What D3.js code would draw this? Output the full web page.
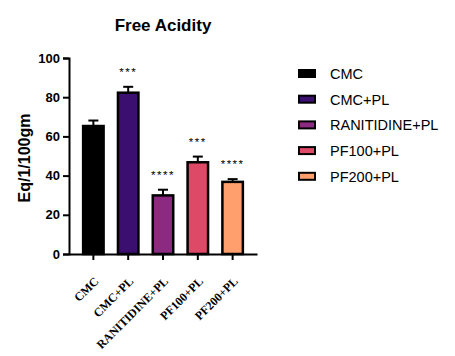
<!DOCTYPE html>
<html><head><meta charset="utf-8">
<script src="https://cdn.jsdelivr.net/npm/d3@7"></script>
<style>body{margin:0;background:#fff;} svg{display:block;}</style>
</head><body>
<script>
const categories = ["CMC", "CMC+PL", "RANITIDINE+PL", "PF100+PL", "PF200+PL"];
const means = [65.3, 82.3, 29.9, 46.8, 36.8];
const errors = [2.8, 3.0, 2.9, 2.9, 1.4];
const stars = ["", "***", "****", "***", "****"];
const colors = ["#000000", "#3b0f70", "#8c2981", "#de4968", "#fe9f6d"];
const yTicks = [0, 20, 40, 60, 80, 100];
const title = "Free Acidity";
const yLabel = "Eq/1/100gm";

const W = 455, H = 356;
const svg = d3.select("body").append("svg").attr("width", W).attr("height", H);

const x0 = 69, x1 = 257, yTop = 58, yBot = 254;
const x = d3.scaleBand().domain(categories).range([x0, x1]).paddingInner(0.34).paddingOuter(0.37);
const y = d3.scaleLinear().domain([0, 100]).range([yBot, yTop]);

// title
svg.append("text").attr("x", 163).attr("y", 31).attr("text-anchor", "middle")
  .attr("font-family", "Liberation Sans, Arial, sans-serif").attr("font-weight", "bold")
  .attr("font-size", 17).text(title);

// y label
svg.append("text").attr("transform", `translate(30,${(yTop + yBot) / 2 + 2}) rotate(-90)`)
  .attr("text-anchor", "middle")
  .attr("font-family", "Liberation Sans, Arial, sans-serif").attr("font-weight", "bold")
  .attr("font-size", 16).text(yLabel);

// bars
const g = svg.append("g");
g.selectAll("rect.bar").data(categories).join("rect").attr("class", "bar")
  .attr("x", d => x(d) + 1.25)
  .attr("width", x.bandwidth() - 2.5)
  .attr("y", (d, i) => y(means[i]))
  .attr("height", (d, i) => y(0) - y(means[i]))
  .attr("fill", (d, i) => colors[i])
  .attr("stroke", "#000").attr("stroke-width", 2.5);

// error bars
const cx = d => x(d) + x.bandwidth() / 2;
g.selectAll("line.err").data(categories).join("line").attr("class", "err")
  .attr("x1", cx).attr("x2", cx)
  .attr("y1", (d, i) => y(means[i])).attr("y2", (d, i) => y(means[i] + errors[i]))
  .attr("stroke", "#000").attr("stroke-width", 2);
g.selectAll("line.cap").data(categories).join("line").attr("class", "cap")
  .attr("x1", d => cx(d) - 5).attr("x2", d => cx(d) + 5)
  .attr("y1", (d, i) => y(means[i] + errors[i])).attr("y2", (d, i) => y(means[i] + errors[i]))
  .attr("stroke", "#000").attr("stroke-width", 2);

// stars
g.selectAll("text.star").data(categories).join("text").attr("class", "star")
  .attr("x", cx).attr("y", (d, i) => y(means[i] + errors[i]) - 11)
  .attr("text-anchor", "middle")
  .attr("font-family", "Liberation Sans, Arial, sans-serif").attr("font-size", 11.5)
  .attr("letter-spacing", 1.5)
  .text((d, i) => stars[i]);

// y axis
const yAxis = svg.append("g").attr("transform", `translate(${x0},0)`)
  .call(d3.axisLeft(y).tickValues(yTicks).tickSize(6).tickPadding(3).tickFormat(d3.format("d")));
yAxis.select(".domain").attr("stroke-width", 2);
yAxis.selectAll(".tick line").attr("stroke-width", 2);
yAxis.selectAll("text").attr("font-family", "Liberation Sans, Arial, sans-serif")
  .attr("font-weight", "bold").attr("font-size", 13).attr("fill", "#000");

// x axis
const xAxis = svg.append("g").attr("transform", `translate(0,${yBot})`)
  .call(d3.axisBottom(x).tickSize(6).tickSizeOuter(0).tickPadding(0));
xAxis.select(".domain").attr("stroke-width", 2);
xAxis.selectAll(".tick line").attr("stroke-width", 2);
xAxis.selectAll("text")
  .attr("font-family", "Liberation Serif, Times New Roman, serif").attr("font-weight", "bold")
  .attr("font-size", 12).attr("fill", "#000")
  .attr("text-anchor", "end").attr("dy", null).attr("x", 0).attr("y", 0)
  .attr("transform", "translate(6,28) rotate(-45)");

// legend
const leg = svg.append("g");
const rowY = i => 73.5 + i * 25.7;
leg.selectAll("rect").data(categories).join("rect")
  .attr("x", 299).attr("y", (d, i) => rowY(i) - 3.5).attr("width", 16).attr("height", 7)
  .attr("fill", (d, i) => colors[i]).attr("stroke", "#000").attr("stroke-width", 2);
leg.selectAll("text").data(categories).join("text")
  .attr("x", 330).attr("y", (d, i) => rowY(i) + 5.5)
  .attr("font-family", "Liberation Sans, Arial, sans-serif").attr("font-size", 14.5)
  .text(d => d);
</script>
</body></html>
